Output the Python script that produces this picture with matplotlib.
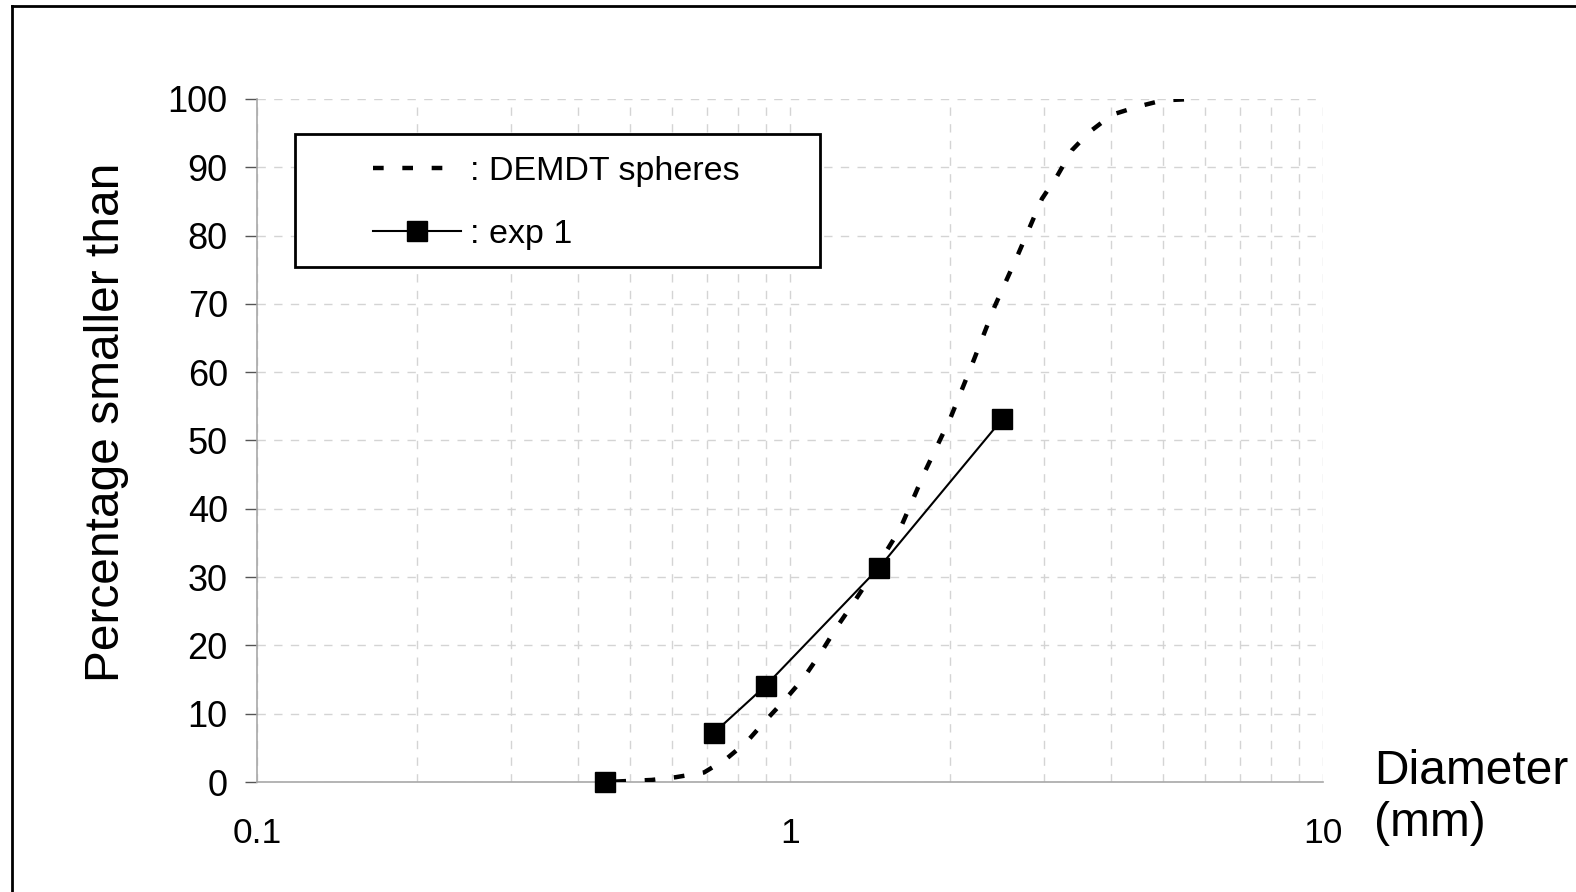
import matplotlib
matplotlib.use("Agg")
import matplotlib.pyplot as plt
from matplotlib.lines import Line2D
from matplotlib.patches import Rectangle
from matplotlib.ticker import LogLocator, FixedLocator, NullFormatter, FixedFormatter

plt.rcParams['font.family'] = ['Liberation Sans', 'DejaVu Sans']

# Data
demdt_d = [0.45, 0.55, 0.61, 0.69, 0.76, 0.83, 0.90, 0.98, 1.06, 1.14, 1.22, 1.32,
           1.41, 1.61, 1.79, 2.0, 2.2, 2.42, 2.68, 2.97, 3.17, 3.38, 3.65, 4.02,
           4.5, 5.0, 5.7]
demdt_p = [0, 0.3, 0.7, 1.4, 3.4, 5.9, 9.0, 12.1, 15.2, 18.8, 22.5, 26.4,
           29.8, 37.1, 45.4, 53.3, 61.3, 69.6, 77.3, 85.4, 88.7, 92.5, 95.2, 97.7,
           98.9, 99.8, 100]
exp1_d = [0.45, 0.72, 0.90, 1.47, 2.50]
exp1_p = [0, 7.2, 14.1, 31.4, 53.1]

series_labels = [': DEMDT spheres', ': exp 1']
x_ticks = [0.1, 1, 10]
x_tick_labels = ['0.1', '1', '10']
y_ticks = [0, 10, 20, 30, 40, 50, 60, 70, 80, 90, 100]

W, H = 1576, 892
fig = plt.figure(figsize=(W / 100, H / 100), dpi=100)
ax = fig.add_axes([257 / W, 1 - 782 / H, (1323 - 257) / W, (782 - 99) / H])

ax.set_xscale('log')
ax.set_xlim(0.1, 10)
ax.set_ylim(0, 100)

dash_kw = dict(color='black', lw=3.2, dash_capstyle='butt')
sq_kw = dict(marker='s', markersize=14, markerfacecolor='black',
             markeredgecolor='black')

ax.plot(demdt_d, demdt_p, linestyle=(4.3, (2.4, 4.2)), zorder=3, **dash_kw)
# first measured point stands alone (no connecting segment)
ax.plot(exp1_d[:1], exp1_p[:1], linestyle='none', zorder=4, clip_on=False, **sq_kw)
ax.plot(exp1_d[1:], exp1_p[1:], color='black', lw=1.5, zorder=4, clip_on=False,
        **sq_kw)

# Ticks and grid
ax.xaxis.set_major_locator(FixedLocator(x_ticks))
ax.xaxis.set_major_formatter(FixedFormatter(x_tick_labels))
ax.xaxis.set_minor_locator(LogLocator(base=10, subs=range(2, 10)))
ax.xaxis.set_minor_formatter(NullFormatter())
ax.set_yticks(y_ticks)

ax.tick_params(axis='x', which='both', length=0, pad=25, labelsize=25.5)
ax.tick_params(axis='y', which='major', length=9, width=1, color='#555555',
               pad=12, labelsize=26)

grid_kw = dict(color='#d4d4d4', linestyle=(0, (6, 6)), linewidth=1)
ax.grid(True, axis='y', which='major', **grid_kw)
ax.grid(True, axis='x', which='both', **grid_kw)
ax.set_axisbelow(True)

for s in ['top', 'right']:
    ax.spines[s].set_visible(False)
for s in ['left', 'bottom']:
    ax.spines[s].set_color('#a8a8a8')
    ax.spines[s].set_linewidth(1.2)

# Axis labels
fig.text(107 / W, 1 - 422 / H, 'Percentage smaller than', rotation=90,
         ha='center', va='center', fontsize=34.5)
ax.set_xlabel('Diameter\n(mm)', fontsize=34.5, ha='left', va='center',
              multialignment='left', linespacing=1.2)
ax.xaxis.set_label_coords((1374 - 257) / (1323 - 257), (782 - 797) / (782 - 99))

# Legend with a rectangular frame
rect = Rectangle((295 / W, 1 - 267 / H), (820 - 295) / W, (267 - 134) / H,
                 transform=fig.transFigure, facecolor='white', edgecolor='black',
                 linewidth=2, zorder=5)
fig.add_artist(rect)
handles = [Line2D([], [], linestyle=(0, (2.4, 4.2)), **dash_kw),
           Line2D([], [], color='black', lw=1.5, **sq_kw)]
leg = fig.legend(handles, series_labels, loc='upper left',
                 bbox_to_anchor=(373 / W, 1 - 156 / H),
                 frameon=False, fontsize=24.5, handlelength=2.6, handletextpad=0.25,
                 labelspacing=0.95, borderpad=0, borderaxespad=0)
leg.set_zorder(6)

# Outer border lines (top and left)
fig.add_artist(Line2D([12 / W, 1], [1 - 6 / H, 1 - 6 / H], color='black', lw=2,
                      transform=fig.transFigure))
fig.add_artist(Line2D([12 / W, 12 / W], [0, 1 - 6 / H], color='black', lw=2,
                      transform=fig.transFigure))

fig.savefig('out.png', dpi=100, facecolor='white')
